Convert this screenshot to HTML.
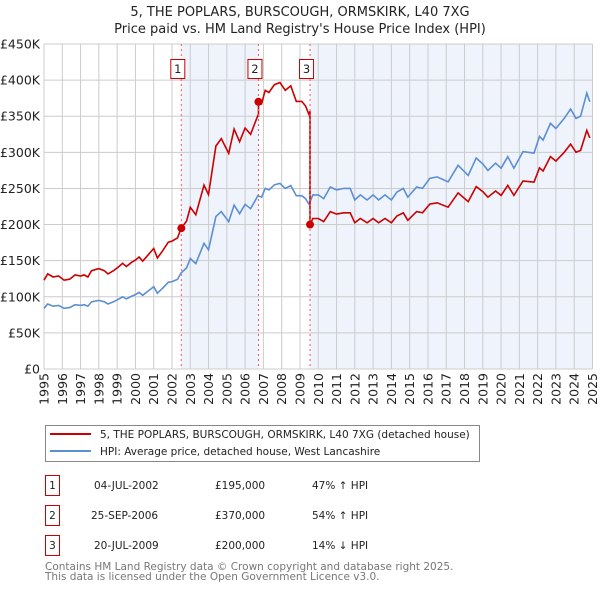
<!DOCTYPE html>
<html><head><meta charset="utf-8"><style>
body{margin:0;background:#fff;font-family:"DejaVu Sans","Liberation Sans",sans-serif;}
</style></head><body>
<svg width="600" height="590" xmlns="http://www.w3.org/2000/svg" font-family="DejaVu Sans, Liberation Sans, sans-serif">
<text x="300" y="16" text-anchor="middle" font-size="13" fill="#222">5, THE POPLARS, BURSCOUGH, ORMSKIRK, L40 7XG</text>
<text x="300" y="33" text-anchor="middle" font-size="13" fill="#222">Price paid vs. HM Land Registry's House Price Index (HPI)</text>
<g id="plot"></g>
<g>
<rect x="45.5" y="425.5" width="434" height="36" fill="#fff" stroke="#888"/>
<line x1="50" y1="434" x2="91" y2="434" stroke="#cc0000" stroke-width="2"/>
<text x="100" y="438" font-size="10.5" fill="#222">5, THE POPLARS, BURSCOUGH, ORMSKIRK, L40 7XG (detached house)</text>
<line x1="50" y1="451" x2="91" y2="451" stroke="#5b8fd4" stroke-width="2"/>
<text x="100" y="455" font-size="10.5" fill="#222">HPI: Average price, detached house, West Lancashire</text>
</g>
<g font-size="10.5" fill="#222">
<rect x="45.5" y="475.5" width="14" height="20" fill="#fff" stroke="#cc0000"/>
<text x="52.5" y="489" text-anchor="middle">1</text>
<text x="94" y="489">04-JUL-2002</text>
<text x="215" y="489">£195,000</text>
<text x="312" y="489">47% ↑ HPI</text>
<rect x="45.5" y="505.5" width="14" height="20" fill="#fff" stroke="#cc0000"/>
<text x="52.5" y="519" text-anchor="middle">2</text>
<text x="91" y="519">25-SEP-2006</text>
<text x="215" y="519">£370,000</text>
<text x="312" y="519">54% ↑ HPI</text>
<rect x="45.5" y="535.5" width="14" height="20" fill="#fff" stroke="#cc0000"/>
<text x="52.5" y="549" text-anchor="middle">3</text>
<text x="94" y="549">20-JUL-2009</text>
<text x="215" y="549">£200,000</text>
<text x="312" y="549">14% ↓ HPI</text>
</g>
<text x="45" y="570" font-size="10.5" fill="#777">Contains HM Land Registry data © Crown copyright and database right 2025.</text>
<text x="45" y="580" font-size="10.5" fill="#777">This data is licensed under the Open Government Licence v3.0.</text>
</svg>
<script>
const hpiDates=[1995.0,1995.2,1995.5,1995.8,1996.1,1996.4,1996.7,1997.0,1997.2,1997.4,1997.6,1998.0,1998.3,1998.5,1998.8,1999.1,1999.3,1999.5,1999.8,2000.0,2000.2,2000.4,2000.7,2001.0,2001.2,2001.5,2001.8,2002.0,2002.3,2002.5,2002.8,2003.0,2003.3,2003.75,2004.0,2004.4,2004.7,2005.1,2005.4,2005.7,2006.0,2006.3,2006.7,2006.9,2007.1,2007.3,2007.6,2007.9,2008.2,2008.5,2008.8,2009.1,2009.3,2009.5,2009.7,2010.0,2010.3,2010.66,2011.0,2011.4,2011.75,2012.0,2012.3,2012.67,2013.0,2013.3,2013.65,2014.0,2014.3,2014.65,2014.9,2015.38,2015.7,2016.1,2016.5,2017.1,2017.65,2018.2,2018.64,2019.0,2019.28,2019.7,2020.0,2020.37,2020.7,2021.2,2021.8,2022.1,2022.3,2022.7,2023.0,2023.45,2023.8,2024.1,2024.35,2024.69,2024.85];
const hpiValues=[84,90,87,88,84,85,89,88,89,87,93,95,93,90,93,97,100,97,101,103,106,102,108,114,105,112,120,121,124,133,140,153,146,174,165,211,218,204,227,215,228,222,240,238,250,248,255,257,250,254,240,240,236,228,241,241,236,252,248,250,250,234,241,234,241,234,241,234,245,250,238,252,250,264,266,259,282,268,292,284,275,285,278,294,278,301,299,322,317,340,333,347,360,347,350,382,370];
const saleDates=[2002.51,2006.73,2009.55];
const salePrices=[195,370,200];
const yTicks=[0,50,100,150,200,250,300,350,400,450];
const yTickLabels=["£0","£50K","£100K","£150K","£200K","£250K","£300K","£350K","£400K","£450K"];
const xTicks=[1995,1996,1997,1998,1999,2000,2001,2002,2003,2004,2005,2006,2007,2008,2009,2010,2011,2012,2013,2014,2015,2016,2017,2018,2019,2020,2021,2022,2023,2024,2025];

const NS="http://www.w3.org/2000/svg";
const L=44,R=592.5,T=44,B=369;
const X=y=>L+(y-1995)/30*(R-L);
const Y=v=>B-v/450*(B-T);
const g=document.getElementById('plot');
function mk(tag,attrs,parent){const e=document.createElementNS(NS,tag);for(const k in attrs)e.setAttribute(k,attrs[k]);(parent||g).appendChild(e);return e;}
function hpiAt(d){for(let i=0;i<hpiDates.length-1;i++){if(d<=hpiDates[i+1]){const t=(d-hpiDates[i])/(hpiDates[i+1]-hpiDates[i]);return hpiValues[i]+t*(hpiValues[i+1]-hpiValues[i]);}}return hpiValues[hpiValues.length-1];}

let s=mk('rect',{x:X(saleDates[0]),y:T,width:X(saleDates[1])-X(saleDates[0]),height:B-T,fill:'#eef3fc'});


s=mk('rect',{x:X(saleDates[2]),y:T,width:R-X(saleDates[2]),height:B-T,fill:'#eef3fc'});



yTicks.forEach((v,i)=>{
 const l=mk('line',{x1:L,x2:R,y1:Y(v),y2:Y(v),stroke:'#cccccc','stroke-width':1});
 
 
 const t=mk('text',{x:L-4,y:Y(v)+4.5,'text-anchor':'end','font-size':12.5,fill:'#222'});
 t.textContent=yTickLabels[i];
 
 
});
xTicks.forEach(yr=>{
 const l=mk('line',{x1:X(yr),x2:X(yr),y1:T,y2:B,stroke:'#cccccc','stroke-width':1});
 
 
 const t=mk('text',{transform:`translate(${X(yr)+4.5},${B+4}) rotate(-90)`,'text-anchor':'end','font-size':12.5,fill:'#222'});
 t.textContent=yr;
 
 
});

let d='';
hpiDates.forEach((dt,i)=>{d+=(i?'L':'M')+X(dt).toFixed(1)+','+Y(hpiValues[i]).toFixed(1);});
let p=mk('path',{d:d,fill:'none',stroke:'#5b8fd4','stroke-width':1.6});



const ratios=saleDates.map((sd,i)=>salePrices[i]/hpiAt(sd));
let pts=[];
for(let k=0;k<saleDates.length;k++){
 const start=k===0?1995:saleDates[k], end=k<saleDates.length-1?saleDates[k+1]:hpiDates[hpiDates.length-1];
 const r=ratios[k];
 pts.push([start,hpiAt(start)*r]);
 hpiDates.forEach((dt,i)=>{if(dt>start&&dt<end)pts.push([dt,hpiValues[i]*r]);});
 pts.push([end,hpiAt(end)*r]);
}
d='';
pts.forEach((q,i)=>{d+=(i?'L':'M')+X(q[0]).toFixed(1)+','+Y(q[1]).toFixed(1);});
p=mk('path',{d:d,fill:'none',stroke:'#cc0000','stroke-width':1.6});



saleDates.forEach((sd,i)=>{
 const l=mk('line',{x1:X(sd),x2:X(sd),y1:T,y2:B,stroke:'#ff5555','stroke-width':1,'stroke-dasharray':'2,3'});
 
 
 const c=mk('circle',{cx:X(sd),cy:Y(salePrices[i]),r:4,fill:'#cc0000'});
 
 
 const b=mk('rect',{x:X(sd)-10.5,y:59.5,width:14,height:19,fill:'#fff',stroke:'#cc0000'});
 
 
 const t=mk('text',{x:X(sd)-3.5,y:73,'text-anchor':'middle','font-size':11.5,fill:'#222'});
 t.textContent=String(i+1);
 
 
});
</script>
</body></html>
